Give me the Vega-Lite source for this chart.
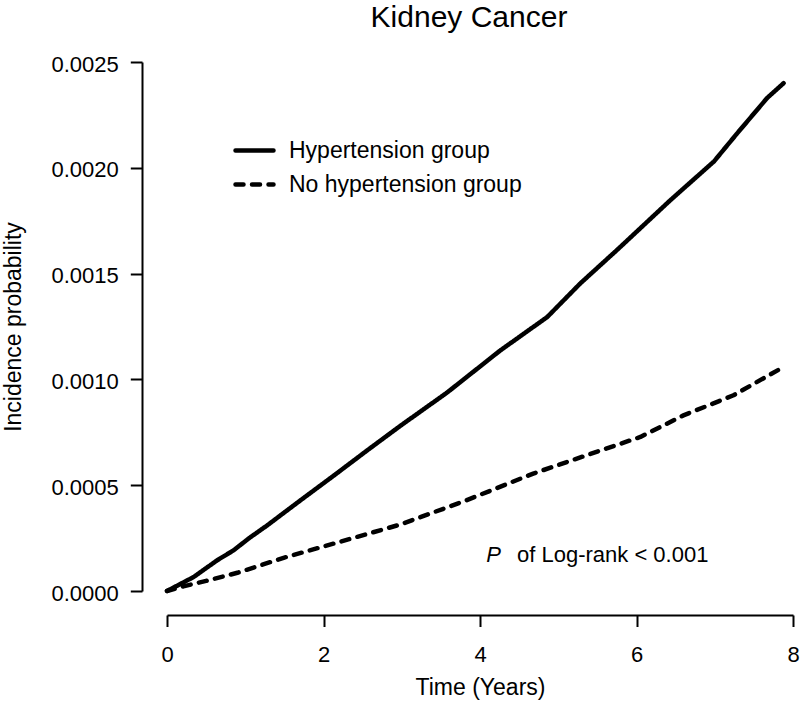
{
  "$schema": "https://vega.github.io/schema/vega-lite/v6.json",
  "width": 626,
  "height": 529,
  "autosize": {"type": "none"},
  "padding": {"left": 167, "top": 62, "right": 7, "bottom": 120},
  "background": "white",
  "title": {
    "text": "Kidney Cancer",
    "fontSize": 30,
    "font": "Liberation Sans",
    "fontWeight": "normal",
    "color": "black",
    "baseline": "alphabetic",
    "anchor": "middle",
    "frame": "group",
    "offset": -4,
    "dx": -11
  },
  "data": {
    "values": [
      {"group": "Hypertension group", "time": 0, "prob": 0},
      {"group": "Hypertension group", "time": 0.34, "prob": 0.000066},
      {"group": "Hypertension group", "time": 0.64, "prob": 0.000145},
      {"group": "Hypertension group", "time": 0.85, "prob": 0.000192},
      {"group": "Hypertension group", "time": 1.05, "prob": 0.00025},
      {"group": "Hypertension group", "time": 1.28, "prob": 0.00031},
      {"group": "Hypertension group", "time": 1.7, "prob": 0.000427},
      {"group": "Hypertension group", "time": 2.13, "prob": 0.000545},
      {"group": "Hypertension group", "time": 2.56, "prob": 0.000665},
      {"group": "Hypertension group", "time": 2.98, "prob": 0.00078},
      {"group": "Hypertension group", "time": 3.58, "prob": 0.000938},
      {"group": "Hypertension group", "time": 4.26, "prob": 0.001137},
      {"group": "Hypertension group", "time": 4.86, "prob": 0.001295},
      {"group": "Hypertension group", "time": 5.28, "prob": 0.001453},
      {"group": "Hypertension group", "time": 5.77, "prob": 0.001618},
      {"group": "Hypertension group", "time": 6.43, "prob": 0.001846},
      {"group": "Hypertension group", "time": 6.99, "prob": 0.00203},
      {"group": "Hypertension group", "time": 7.28, "prob": 0.00216},
      {"group": "Hypertension group", "time": 7.67, "prob": 0.00233},
      {"group": "Hypertension group", "time": 7.88, "prob": 0.0024},
      {"group": "No hypertension group", "time": 0, "prob": 0},
      {"group": "No hypertension group", "time": 0.21, "prob": 0.000022},
      {"group": "No hypertension group", "time": 0.5, "prob": 0.000048},
      {"group": "No hypertension group", "time": 0.9, "prob": 0.000086},
      {"group": "No hypertension group", "time": 1.5, "prob": 0.000158},
      {"group": "No hypertension group", "time": 2.13, "prob": 0.000224},
      {"group": "No hypertension group", "time": 2.98, "prob": 0.000314},
      {"group": "No hypertension group", "time": 3.83, "prob": 0.000429},
      {"group": "No hypertension group", "time": 4.68, "prob": 0.000555},
      {"group": "No hypertension group", "time": 5.54, "prob": 0.000664},
      {"group": "No hypertension group", "time": 6.05, "prob": 0.000728},
      {"group": "No hypertension group", "time": 6.6, "prob": 0.00083},
      {"group": "No hypertension group", "time": 7.24, "prob": 0.000925},
      {"group": "No hypertension group", "time": 7.88, "prob": 0.001059}
    ]
  },
  "layer": [
    {
      "mark": {"type": "line", "color": "black", "strokeWidth": 4.5, "strokeCap": "round", "strokeJoin": "round"},
      "encoding": {
        "x": {
          "field": "time", "type": "quantitative",
          "scale": {"domain": [0, 8], "nice": false, "zero": false},
          "axis": {
            "title": "Time (Years)", "values": [0, 2, 4, 6, 8], "format": "d",
            "offset": 24, "tickSize": 11.5, "labelPadding": 18, "titlePadding": 11, "titleFontSize": 23,
            "labelFlush": false, "labelOverlap": false
          }
        },
        "y": {
          "field": "prob", "type": "quantitative",
          "scale": {"domain": [0, 0.0025], "nice": false},
          "axis": {
            "title": "Incidence probability", "values": [0, 0.0005, 0.001, 0.0015, 0.002, 0.0025], "format": ".4f",
            "offset": 25, "tickSize": 11.7, "labelPadding": 12, "titlePadding": 26, "labelOffset": 2, "titleFontSize": 23,
            "labelFlush": false, "labelOverlap": false
          }
        },
        "strokeDash": {
          "field": "group", "type": "nominal",
          "scale": {"domain": ["Hypertension group", "No hypertension group"], "range": [[1, 0], [8, 8.5]]},
          "legend": {
            "title": null, "orient": "none", "legendX": 66, "legendY": 67,
            "symbolType": "stroke", "symbolSize": 1444, "symbolStrokeWidth": 4.5, "symbolStrokeColor": "black",
            "labelFontSize": 23, "labelFont": "Liberation Sans", "labelColor": "black", "labelOffset": 13,
            "rowPadding": -5, "padding": 0, "labelLimit": 400,
            "encode": {"symbols": {"update": {"strokeCap": {"value": "round"}}}}
          }
        },
        "order": {"field": "time"}
      }
    },
    {
      "data": {"values": [{}]},
      "mark": {"type": "text", "text": "P", "fontStyle": "italic", "fontSize": 22, "font": "Liberation Sans", "align": "left", "baseline": "alphabetic", "color": "black"},
      "encoding": {
        "x": {"datum": 4.08, "type": "quantitative"},
        "y": {"datum": 0.000137, "type": "quantitative"}
      }
    },
    {
      "data": {"values": [{}]},
      "mark": {"type": "text", "text": "of Log-rank < 0.001", "fontSize": 22, "font": "Liberation Sans", "align": "left", "baseline": "alphabetic", "color": "black"},
      "encoding": {
        "x": {"datum": 4.473, "type": "quantitative"},
        "y": {"datum": 0.000137, "type": "quantitative"}
      }
    }
  ],
  "config": {
    "view": {"stroke": null},
    "axis": {
      "grid": false,
      "domainColor": "black", "domainWidth": 2,
      "tickColor": "black", "tickWidth": 2,
      "labelColor": "black", "titleColor": "black",
      "labelFont": "Liberation Sans", "titleFont": "Liberation Sans",
      "labelFontSize": 22, "titleFontSize": 22, "titleFontWeight": "normal"
    }
  }
}
